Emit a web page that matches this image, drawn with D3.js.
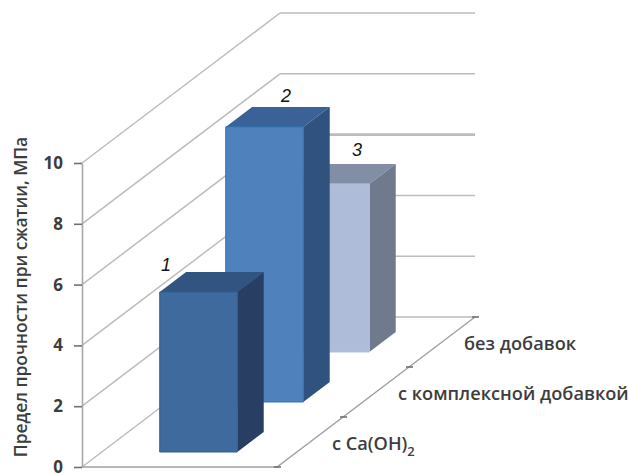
<!DOCTYPE html>
<html lang="ru">
<head>
<meta charset="utf-8">
<script src="https://cdn.jsdelivr.net/npm/d3@7/dist/d3.min.js"></script>
<style>
html,body{margin:0;padding:0;background:#fff}
svg{display:block}
text{font-family:"Open Sans","DejaVu Sans",sans-serif;fill:#3d3d3d}
</style>
</head>
<body>
<svg id="chart" width="629" height="474"></svg>
<script>
const categories = ["с Ca(OH)", "с комплексной добавкой", "без добавок"];
const categorySubscripts = ["2", "", ""];
const strength = [5.26, 9.05, 5.53];
const barLabels = ["1", "2", "3"];
const frontColors = ["#3f6a9e", "#4f81bd", "#aebcd9"];
const edgeColors = ["#35608f", "#2f75b8", "#b4c1dc"];
const sideColors = ["#283f63", "#30527f", "#6f7b8d"];
const topColors = ["#325480", "#3b6296", "#828da6"];
const valueTicks = [0, 2, 4, 6, 8, 10];
const axisTitle = "Предел прочности при сжатии, МПа";

const svg = d3.select("#chart");

// Oblique projection: value rises vertically, depth recedes up and to the right.
const yScale = d3.scaleLinear().domain([0, 10]).range([467, 163]);
const widthScale = d3.scaleLinear().domain([0, 1]).range([0, 195]);
const depthX = d3.scaleLinear().domain([0, 1]).range([0, 198]);
const depthY = d3.scaleLinear().domain([0, 1]).range([0, -150]);
const originX = 82;
const project = (w, d, v) => [originX + widthScale(w) + depthX(d), yScale(v) + depthY(d)];
const pathOf = pts => "M" + pts.map(p => p.join(",")).join("L") + "Z";
const lineOf = pts => "M" + pts.map(p => p.join(",")).join("L");

const depthBand = d3.scaleBand().domain(d3.range(categories.length)).range([0, 1]);
const barInset = 0.1;
const barLeft = 0.297, barRight = 0.695;

// Gridlines run along the side wall and then across the back wall.
const grid = svg.append("g").attr("fill", "none").attr("stroke", "#bcbcbc").attr("stroke-width", 1.5);
valueTicks.forEach(v => {
  if (v > 0) grid.append("path").attr("d", lineOf([project(0, 0, v), project(0, 1, v)]));
  grid.append("path").attr("d", lineOf([project(0, 1, v), project(1, 1, v)]))
    .attr("stroke-width", v === 6 ? 2.6 : 1.5);
});
grid.append("path").attr("d", lineOf([project(0, 0, 0), project(0, 1, 0)]));

// Floor edges with depth tick marks.
const floor = svg.append("g").attr("fill", "none").attr("stroke", "#a0a0a0").attr("stroke-width", 1.4);
floor.append("path").attr("d", lineOf([project(0, 0, 0), project(1, 0, 0), project(1, 1, 0)]));
d3.range(categories.length + 1).forEach(i => {
  const [x, y] = project(1, i / categories.length, 0);
  floor.append("line").attr("x1", x - 3).attr("x2", x + 4).attr("y1", y).attr("y2", y)
    .attr("stroke", "#707070").attr("stroke-width", 1.6);
});

// Bars are painted from the farthest to the nearest.
const labelShift = [[-20, -1], [34, -5], [39, -8]];
d3.range(categories.length).reverse().forEach(i => {
  const d0 = depthBand(i) + barInset;
  const d1 = depthBand(i) + depthBand.bandwidth() - barInset;
  const v = strength[i];
  const g = svg.append("g");
  g.append("path").attr("fill", topColors[i]).attr("d", pathOf([
    project(barLeft, d0, v), project(barRight, d0, v), project(barRight, d1, v), project(barLeft, d1, v)]));
  g.append("path").attr("fill", sideColors[i]).attr("d", pathOf([
    project(barRight, d0, 0), project(barRight, d1, 0), project(barRight, d1, v), project(barRight, d0, v)]));
  g.append("path").attr("fill", frontColors[i])
    .attr("stroke", edgeColors[i]).attr("stroke-width", 1)
    .attr("d", pathOf([
      project(barLeft, d0, 0), project(barRight, d0, 0), project(barRight, d0, v), project(barLeft, d0, v)]));
  const [lx, ly] = project(barLeft, d1, v);
  g.append("text").attr("x", lx + labelShift[i][0]).attr("y", ly + labelShift[i][1])
    .attr("text-anchor", "middle")
    .style("font-family", "'Liberation Sans', sans-serif").style("font-style", "italic")
    .style("font-size", "18px").style("fill", "#111").text(barLabels[i]);
});

// Value axis.
const axis = svg.append("g").attr("transform", `translate(${originX},0)`)
  .call(d3.axisLeft(yScale).tickValues(valueTicks).tickSizeInner(8).tickSizeOuter(0).tickPadding(11));
axis.selectAll(".domain").attr("stroke", "#a8a8a8").attr("stroke-width", 1.6);
axis.selectAll(".tick line").attr("stroke", "#707070").attr("stroke-width", 1.6);
axis.selectAll(".tick text").style("font-size", "17px").style("font-weight", 700)
  .style("font-family", "'Open Sans',sans-serif").style("fill", "#3d3d3d");

svg.append("text")
  .attr("transform", "translate(27,297) rotate(-90)")
  .attr("text-anchor", "middle")
  .style("font-size", "17.4px").style("font-weight", 600)
  .text(axisTitle);

// Category labels sit below the right floor edge.
const labelAnchor = [[22, 8], [22, 8], [22, 8]];
categories.forEach((c, i) => {
  const [x, y] = project(1, depthBand(i) + depthBand.bandwidth() / 2, 0);
  const t = svg.append("text")
    .attr("x", x + labelAnchor[i][0])
    .attr("y", y + labelAnchor[i][1])
    .style("font-size", "18.2px").style("font-weight", 600)
    .text(c);
  if (categorySubscripts[i]) {
    t.append("tspan").attr("dy", 6).style("font-size", "13px").text(categorySubscripts[i]);
  }
});
</script>
</body>
</html>
